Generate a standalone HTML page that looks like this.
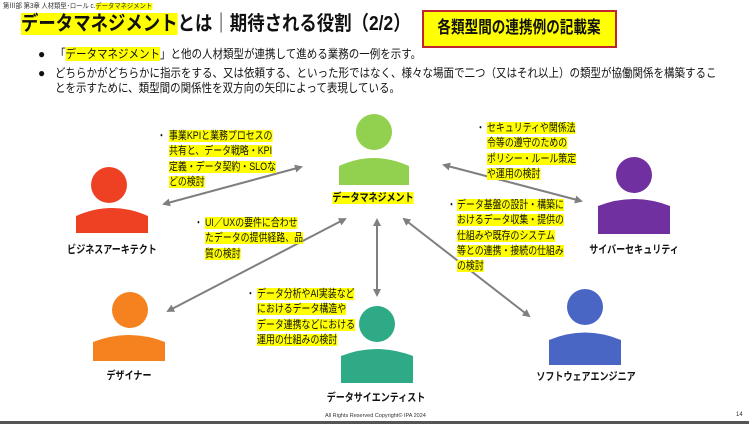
<!DOCTYPE html>
<html><head><meta charset="utf-8"><style>
*{margin:0;padding:0;box-sizing:border-box}
body{width:749px;height:424px;background:#fff;position:relative;overflow:hidden;font-family:"Liberation Sans","Noto Sans CJK JP",sans-serif;color:#111}
.a{position:absolute;white-space:nowrap;transform-origin:0 0}
.hl{background:#ffff00}
.n{font-size:11px;line-height:15.3px;transform:scaleX(0.81)}
.n span{background:#ffff00}
.lb{font-weight:bold;font-size:11px;transform:translateX(-50%) scaleX(0.82);transform-origin:50% 0}
</style></head><body>
<div class="a" style="left:3px;top:1px;font-size:7px;color:#333;transform:scaleX(0.9)">第Ⅲ部 第3章 人材類型･ロール c.<span class="hl">データマネジメント</span></div>
<div class="a" style="left:21px;top:11px;font-size:20px;font-weight:bold;line-height:26px;transform:scaleX(0.87)"><span class="hl">データマネジメント</span>とは｜期待される役割（2/2）</div>
<div class="a" style="left:422px;top:10px;width:195px;height:38px;background:#ffff00;border:2px solid #c0272d"></div>
<div class="a" style="left:519px;top:16px;font-size:17px;font-weight:bold;line-height:24px;transform:translateX(-50%) scaleX(0.8);transform-origin:50% 0">各類型間の連携例の記載案</div>
<div class="a" style="left:38px;top:46px;font-size:12px;line-height:16px">●</div>
<div class="a" style="left:55px;top:46px;font-size:12px;line-height:16px;transform:scaleX(0.875)">「<span class="hl">データマネジメント</span>」と他の人材類型が連携して進める業務の一例を示す。</div>
<div class="a" style="left:38px;top:66px;font-size:12px;line-height:15px">●</div>
<div class="a" style="left:55px;top:66px;font-size:12px;line-height:15px;transform:scaleX(0.875)">どちらかがどちらかに指示をする、又は依頼する、といった形ではなく、様々な場面で二つ（又はそれ以上）の類型が協働関係を構築するこ<br>とを示すために、類型間の関係性を双方向の矢印によって表現している。</div>

<svg class="a" style="left:0;top:0" width="749" height="424">
<defs><marker id="m" markerWidth="8" markerHeight="8" refX="6" refY="4" orient="auto-start-reverse" markerUnits="userSpaceOnUse"><path d="M0,0 L8,4 L0,8 Z" fill="#7f7f7f"/></marker></defs>
<g stroke="#7f7f7f" stroke-width="2" marker-start="url(#m)" marker-end="url(#m)">
<line x1="164" y1="204" x2="301" y2="167"/>
<line x1="444" y1="165" x2="581" y2="201"/>
<line x1="345" y1="219" x2="168" y2="311"/>
<line x1="377" y1="220" x2="377" y2="295"/>
<line x1="404" y1="219" x2="529" y2="316"/>
</g>
<g>
<circle cx="374" cy="132" r="18" fill="#92d050"/><path d="M339,185 L339,166 Q374,150 409,166 L409,185 Z" fill="#92d050"/>
<circle cx="109" cy="185" r="18" fill="#ee4123"/><path d="M76,233 L76,216 Q112,200 148,216 L148,233 Z" fill="#ee4123"/>
<circle cx="634" cy="175" r="18" fill="#7030a0"/><path d="M598,234 L598,206 Q634,192 670,206 L670,234 Z" fill="#7030a0"/>
<circle cx="130" cy="310" r="18" fill="#f6821f"/><path d="M93,361 L93,342 Q129,328 165,342 L165,361 Z" fill="#f6821f"/>
<circle cx="377" cy="324" r="18" fill="#2eaa86"/><path d="M341,383 L341,356 Q377,342 413,356 L413,383 Z" fill="#2eaa86"/>
<circle cx="585" cy="307" r="18" fill="#4a66c4"/><path d="M549,365 L549,340 Q585,325 621,340 L621,365 Z" fill="#4a66c4"/>
</g>
</svg>

<div class="a lb" style="left:373px;top:189px"><span class="hl">データマネジメント</span></div>
<div class="a lb" style="left:112px;top:241px">ビジネスアーキテクト</div>
<div class="a lb" style="left:634px;top:241px">サイバーセキュリティ</div>
<div class="a lb" style="left:129px;top:367px">デザイナー</div>
<div class="a lb" style="left:376px;top:389px">データサイエンティスト</div>
<div class="a lb" style="left:586px;top:368px">ソフトウェアエンジニア</div>

<div class="a n" style="left:157px;top:129px">・</div>
<div class="a n" style="left:169px;top:129px"><span>事業KPIと業務プロセスの</span><br><span>共有と、データ戦略・KPI</span><br><span>定義・データ契約・SLOな</span><br><span>どの検討</span></div>
<div class="a n" style="left:194px;top:216px">・</div>
<div class="a n" style="left:205px;top:216px"><span>UI／UXの要件に合わせ</span><br><span>たデータの提供経路、品</span><br><span>質の検討</span></div>
<div class="a n" style="left:476px;top:121px">・</div>
<div class="a n" style="left:487px;top:121px"><span>セキュリティや関係法</span><br><span>令等の遵守のための</span><br><span>ポリシー・ルール策定</span><br><span>や運用の検討</span></div>
<div class="a n" style="left:447px;top:198px">・</div>
<div class="a n" style="left:457px;top:198px"><span>データ基盤の設計・構築に</span><br><span>おけるデータ収集・提供の</span><br><span>仕組みや既存のシステム</span><br><span>等との連携・接続の仕組み</span><br><span>の検討</span></div>
<div class="a n" style="left:246px;top:287px">・</div>
<div class="a n" style="left:257px;top:287px"><span>データ分析やAI実装など</span><br><span>におけるデータ構造や</span><br><span>データ連携などにおける</span><br><span>運用の仕組みの検討</span></div>

<div class="a" style="left:325px;top:413px;font-size:5.5px;color:#333">All Rights Reserved Copyright© IPA 2024</div>
<div class="a" style="left:736px;top:412px;font-size:6px;color:#333">14</div>
<div class="a" style="left:0;top:421px;width:749px;height:3px;background:#555"></div>
</body></html>
